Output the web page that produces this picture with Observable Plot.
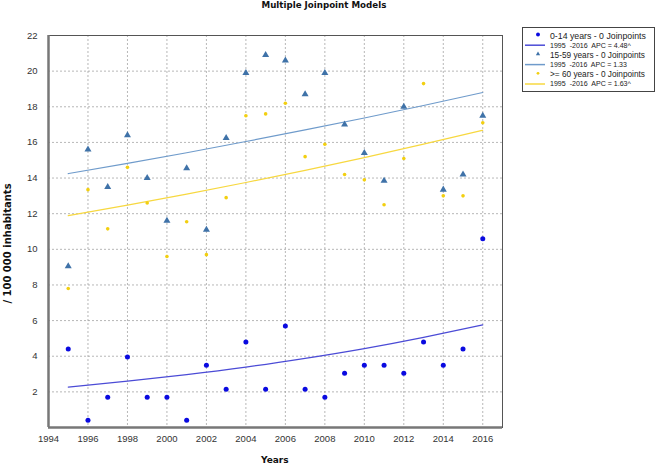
<!DOCTYPE html>
<html>
<head>
<meta charset="utf-8">
<script src="https://cdn.jsdelivr.net/npm/d3@7"></script>
<script src="https://cdn.jsdelivr.net/npm/@observablehq/plot@0.6"></script>
<style>
  html, body { margin: 0; padding: 0; background: #fff; }
  #wrap { position: relative; width: 658px; height: 465px; overflow: hidden; }
  #wrap svg { position: absolute; left: 0; top: 0; }
  .lbl { position: absolute; font-family: "DejaVu Sans", Verdana, sans-serif; font-weight: bold; color: #111; white-space: nowrap; }
  #legend { position: absolute; left: 522px; top: 27px; width: 131px; height: 63px; border: 1px solid #444; background: #fff; }
</style>
</head>
<body>
<div id="wrap"></div>
<script>
// ---- data ----
const years = [1995,1996,1997,1998,1999,2000,2001,2002,2003,2004,2005,2006,2007,2008,2009,2010,2011,2012,2013,2014,2015,2016];
const age0_14  = [4.4,0.4,1.7,3.95,1.7,1.7,0.4,3.5,2.15,4.8,2.15,5.7,2.15,1.7,3.05,3.5,3.5,3.05,4.8,3.5,4.4,10.6];
const age15_59 = [9.05,15.6,13.5,16.4,14.0,11.6,14.55,11.1,16.25,19.9,20.9,20.6,18.7,19.9,17.0,15.4,13.85,18.0,null,13.35,14.2,17.5];
const age60    = [7.8,13.35,11.15,14.6,12.6,9.6,11.55,9.7,12.9,17.5,17.6,18.2,15.2,15.9,14.2,13.9,12.5,15.1,19.3,13.0,13.0,17.1];

// fitted joinpoint curves
const fitYears  = [1995,1998,2001,2004,2007,2010,2013,2016];
const fit0_14   = [2.27,2.60,2.97,3.39,3.88,4.43,5.06,5.76];
const fit15_59  = [14.25,14.82,15.42,16.05,16.70,17.37,18.07,18.80];
const fit60     = [11.89,12.48,13.10,13.75,14.43,15.15,15.90,16.68];

const xTicks = [1994,1996,1998,2000,2002,2004,2006,2008,2010,2012,2014,2016];
const yTicks = [2,4,6,8,10,12,14,16,18,20,22];

const title = "Multiple Joinpoint Models";
const xLabel = "Years";
const yLabel = "/ 100 000 inhabitants";
const legendNames = ["0-14 years - 0 Joinpoints", "15-59 years - 0 Joinpoints", ">= 60 years - 0 Joinpoints"];
const legendFits  = ["1995  -2016  APC = 4.48^", "1995  -2016  APC = 1.33", "1995  -2016  APC = 1.63^"];

// ---- colours ----
const cBlue = "#0a0ae0", cBlueLine = "#4b4bd6";
const cSteel = "#3f72a8", cSteelLine = "#6f9bcb";
const cGold = "#f2cf10", cGoldLine = "#f7d840";

const pts = (arr) => years.map((y, i) => ({year: y, v: arr[i]})).filter(d => d.v != null);
const fit = (arr) => fitYears.map((y, i) => ({year: y, v: arr[i]}));

const chart = Plot.plot({
  width: 658,
  height: 465,
  marginLeft: 48,
  marginRight: 156,
  marginTop: 35,
  marginBottom: 38,
  style: {fontFamily: "'Liberation Sans', Arial, sans-serif", fontSize: "9.5px", color: "#333", background: "#fff"},
  x: {domain: [1994, 2017]},
  y: {domain: [0, 22]},
  marks: [
    Plot.gridX(xTicks, {stroke: "#999", strokeOpacity: 0.7, strokeDasharray: "2,2"}),
    Plot.gridY(yTicks, {stroke: "#999", strokeOpacity: 0.7, strokeDasharray: "2,2"}),
    Plot.axisX({ticks: xTicks, tickSize: 0, tickPadding: 8, tickFormat: d => String(d), label: null, fill: "#333"}),
    Plot.axisY({ticks: yTicks, tickSize: 0, tickPadding: 11, tickFormat: d => String(d), label: null, fill: "#333"}),
    Plot.line(fit(fit15_59), {x: "year", y: "v", stroke: cSteelLine, strokeWidth: 1.2, curve: "natural"}),
    Plot.line(fit(fit60), {x: "year", y: "v", stroke: cGoldLine, strokeWidth: 1.2, curve: "natural"}),
    Plot.line(fit(fit0_14), {x: "year", y: "v", stroke: cBlueLine, strokeWidth: 1.2, curve: "natural"}),
    Plot.dot(pts(age60), {x: "year", y: "v", r: 1.8, fill: cGold, stroke: null}),
    Plot.dot(pts(age15_59), {x: "year", y: "v", symbol: "triangle", r: 2.6, fill: cSteel, stroke: null}),
    Plot.dot(pts(age0_14), {x: "year", y: "v", r: 2.5, fill: cBlue, stroke: null}),
    Plot.frame({stroke: "#555", strokeWidth: 1}),
    Plot.ruleX([1994], {stroke: "#777", strokeWidth: 2.5}),
    Plot.ruleY([0], {stroke: "#777", strokeWidth: 2.5})
  ]
});

const wrap = document.getElementById("wrap");
wrap.appendChild(chart);

// title and axis labels
function addLabel(text, css) {
  const d = document.createElement("div");
  d.className = "lbl";
  d.textContent = text;
  Object.assign(d.style, css);
  wrap.appendChild(d);
  return d;
}
const t = addLabel(title, {fontSize: "8.7px", top: "0px"});
t.style.left = (324 - t.offsetWidth / 2) + "px";
const xl = addLabel(xLabel, {fontSize: "9px", top: "455px"});
xl.style.left = (275 - xl.offsetWidth / 2) + "px";
const yl = addLabel(yLabel, {fontSize: "10px"});
const w = yl.offsetWidth, h = yl.offsetHeight;
yl.style.left = (7 - w / 2) + "px";
yl.style.top = (243 - h / 2) + "px";
yl.style.transform = "rotate(-90deg)";

// legend
const lg = document.createElement("div");
lg.id = "legend";
wrap.appendChild(lg);
const ls = d3.select(lg).append("svg").attr("width", 131).attr("height", 63)
  .style("position", "absolute").style("left", 0).style("top", 0)
  .attr("font-family", "'Liberation Sans', Arial, sans-serif").attr("fill", "#222");
const rowH = 9.7, y0 = 7.5;
const nameWidths = [96, 95, 95];
const fitWidths = [81, 77, 81];
const entries = [
  {color: cBlue, line: cBlueLine, sym: d3.symbolCircle, size: 12},
  {color: cSteel, line: cSteelLine, sym: d3.symbolTriangle, size: 8},
  {color: cGold, line: cGoldLine, sym: d3.symbolCircle, size: 6}
];
function fitText(txt, y, target) {
  const el = ls.append("text").attr("x", 27).attr("y", y).attr("dy", "0.35em")
    .attr("font-size", 9).style("white-space", "pre").text(txt);
  const L = el.node().getComputedTextLength();
  if (L > 0) el.attr("font-size", Math.min(10.5, 9 * target / L));
  return el;
}
entries.forEach((e, k) => {
  const ym = y0 + 2 * k * rowH, yf = y0 + (2 * k + 1) * rowH;
  ls.append("path").attr("d", d3.symbol(e.sym, e.size)()).attr("transform", `translate(15,${ym - 1})`).attr("fill", e.color);
  ls.append("line").attr("x1", 2).attr("x2", 22).attr("y1", yf).attr("y2", yf).attr("stroke", e.line).attr("stroke-width", 1.5);
  fitText(legendNames[k], ym, nameWidths[k]);
  fitText(legendFits[k], yf, fitWidths[k]);
});
</script>
</body>
</html>
